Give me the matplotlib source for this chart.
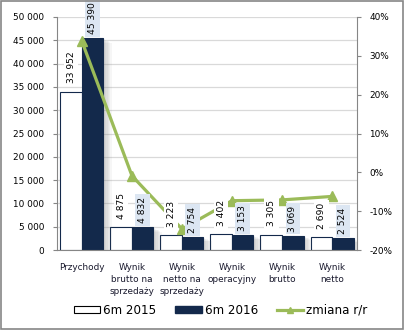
import matplotlib.pyplot as plt
import matplotlib.patheffects as pe
from matplotlib.patches import Patch
from matplotlib.lines import Line2D
import numpy as np

# dane
kategorie = ['Przychody', 'Wynik\nbrutto na\nsprzedaży', 'Wynik\nnetto na\nsprzedaży',
             'Wynik\noperacyjny', 'Wynik\nbrutto', 'Wynik\nnetto']
w_2015 = [33952, 4875, 3223, 3402, 3305, 2690]
w_2016 = [45390, 4832, 2754, 3153, 3069, 2524]
zmiana = [33.7, -0.9, -14.6, -7.3, -7.1, -6.2]

NAVY = '#13294B'
GREEN = '#9BBB59'
LBLUE = '#DCE6F2'


def fmt(v):
    return f'{v:,}'.replace(',', ' ')


fig = plt.figure(figsize=(4.05, 3.3), dpi=100)
fig.patches.append(plt.Rectangle((0.002, 0.003), 0.994, 0.994, transform=fig.transFigure,
                                 fill=False, edgecolor='#868686', linewidth=1.2))
ax = fig.add_axes([0.1407, 0.2424, 0.7408, 0.7061])
ax2 = ax.twinx()

x = np.arange(len(kategorie))
bw = 0.43
# miękki cień: kilka warstw z małą przezroczystością
shadow = [pe.SimplePatchShadow(offset=(d, -d * 0.5), shadow_rgbFace='#808080', alpha=0.07)
          for d in (1, 2, 3, 4, 5, 6)] + [pe.Normal()]
b1 = ax.bar(x - bw / 2, w_2015, bw, color='white', edgecolor=NAVY, linewidth=0.8, zorder=2)
b2 = ax.bar(x + bw / 2, w_2016, bw, color=NAVY, edgecolor=NAVY, linewidth=0.8, zorder=2)
for b in list(b1) + list(b2):
    b.set_path_effects(shadow)

ax.set_xlim(-0.5, len(kategorie) - 0.5)
ax.set_ylim(0, 50000)
ax.set_yticks(range(0, 50001, 5000))
ax.set_yticklabels([fmt(v) for v in range(0, 50001, 5000)], fontsize=6.4)
ax.yaxis.grid(True, color='#D9D9D9', linewidth=0.9, zorder=0)
ax.set_axisbelow(True)
ax.set_xticks(x)
ax.set_xticklabels(kategorie, fontsize=6.4, color='#1a1a2e', linespacing=1.45)
ax.tick_params(axis='x', length=0, pad=9)
ax.tick_params(axis='y', length=3, color='#868686', pad=6)
for s in ['top', 'right']:
    ax.spines[s].set_visible(False)
ax.spines['left'].set_color('#868686')
ax.spines['bottom'].set_color('#868686')

ax2.plot(x, zmiana, color=GREEN, linewidth=2.3, marker='^', markersize=7, zorder=3)
ax2.set_ylim(-20, 40)
ax2.set_yticks(range(-20, 41, 10))
ax2.set_yticklabels([f'{v}%' for v in range(-20, 41, 10)], fontsize=6.4)
ax2.tick_params(axis='y', length=3, color='#868686', pad=6)
for s in ['top', 'left', 'bottom']:
    ax2.spines[s].set_visible(False)
ax2.spines['right'].set_color('#868686')

# etykiety nad słupkami (na wierzchu linii)
for xi, v in zip(x - bw / 2, w_2015):
    ax2.annotate(fmt(v), (xi, ax2.transData.inverted().transform(
        ax.transData.transform((xi, v)))[1]), xytext=(0, 6), textcoords='offset points',
        rotation=90, ha='center', va='bottom', fontsize=6.6, zorder=5, annotation_clip=False,
        bbox=dict(boxstyle='square,pad=0.3', fc='white', ec='none'))
for xi, v in zip(x + bw / 2, w_2016):
    ax2.annotate(fmt(v), (xi, ax2.transData.inverted().transform(
        ax.transData.transform((xi, v)))[1]), xytext=(0, 3), textcoords='offset points',
        rotation=90, ha='center', va='bottom', fontsize=6.6, zorder=5, annotation_clip=False,
        bbox=dict(boxstyle='square,pad=0.3', fc=LBLUE, ec='none'))

uchwyty = [Patch(facecolor='white', edgecolor='black', linewidth=0.8),
           Patch(facecolor=NAVY, edgecolor=NAVY),
           Line2D([0], [0], color=GREEN, linewidth=2.3, marker='^', markersize=5)]
fig.legend(uchwyty, ['6m 2015', '6m 2016', 'zmiana r/r'], loc='center',
           bbox_to_anchor=(0.545, 0.06), ncol=3, frameon=False, fontsize=8.6,
           handlelength=2.2, handleheight=0.6, handletextpad=0.25, columnspacing=1.6)

fig.savefig('out.png', dpi=100)
